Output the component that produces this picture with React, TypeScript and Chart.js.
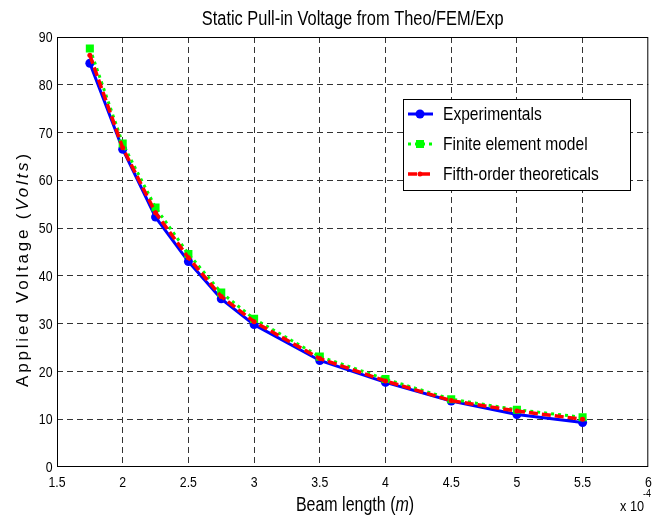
import React, { useEffect, useRef } from 'react';
import { Chart, registerables } from 'chart.js';

Chart.register(...registerables);

// Beam length in units of 1e-4 m
const beamLength = [1.75, 2, 2.25, 2.5, 2.75, 3, 3.5, 4, 4.5, 5, 5.5];
const experimentals = [84.5, 66.5, 52.3, 43.0, 35.2, 29.8, 22.3, 17.7, 13.8, 11.0, 9.3];
const finiteElement = [87.6, 67.7, 54.3, 44.6, 36.5, 31.0, 23.1, 18.4, 14.2, 12.0, 10.4];
const fifthOrder = [86.2, 66.8, 53.2, 43.8, 35.7, 30.4, 22.7, 18.0, 13.9, 11.7, 10.0];

const xTicks = [1.5, 2, 2.5, 3, 3.5, 4, 4.5, 5, 5.5, 6];
const yTicks = [0, 10, 20, 30, 40, 50, 60, 70, 80, 90];

const seriesLabels = ['Experimentals', 'Finite element model', 'Fifth-order theoreticals'];
const chartTitle = 'Static Pull-in Voltage from Theo/FEM/Exp';

const FAM = "'Liberation Sans', Arial, sans-serif";
const SX = 0.82; // horizontal condensing to mimic a narrow Helvetica

function segWidth(ctx: CanvasRenderingContext2D, segs: [string, string][]) {
  let total = 0;
  for (const [t, f] of segs) { ctx.font = f; total += ctx.measureText(t).width; }
  return total;
}

// draw (condensed) text segments; align: 0=left,0.5=center,1=right
function drawText(ctx: CanvasRenderingContext2D, segs: [string, string][], x: number, y: number, align = 0.5, sx = SX) {
  ctx.save();
  ctx.translate(x, y);
  ctx.scale(sx, 1);
  ctx.textAlign = 'left';
  const total = segWidth(ctx, segs);
  let cx = -total * align;
  for (const [t, f] of segs) { ctx.font = f; ctx.fillText(t, cx, 0); cx += ctx.measureText(t).width; }
  ctx.restore();
}

const overlay = {
  id: 'overlay',
  afterDraw(chart: any) {
    const { ctx, chartArea: a } = chart;
    const xs = chart.scales.x, ys = chart.scales.y;
    ctx.save();
    ctx.setLineDash([]);
    ctx.strokeStyle = '#000';
    ctx.lineWidth = 1;
    ctx.strokeRect(a.left + 0.5, a.top + 0.5, a.right - a.left - 1, a.bottom - a.top - 1);

    ctx.fillStyle = '#000';
    ctx.textBaseline = 'alphabetic';

    // tick labels
    const tf = `15px ${FAM}`;
    xTicks.forEach((v) => drawText(ctx, [[String(v), tf]], xs.getPixelForValue(v), 486.5, 0.5));
    ctx.textBaseline = 'middle';
    yTicks.forEach((v) => drawText(ctx, [[String(v), tf]], 52.5, ys.getPixelForValue(v) + 1, 1));
    ctx.textBaseline = 'alphabetic';

    // title
    drawText(ctx, [[chartTitle, `20px ${FAM}`]], (a.left + a.right) / 2, 25, 0.5);

    // x title
    drawText(ctx, [
      ['Beam length (', `19.5px ${FAM}`],
      ['m', `italic 19.5px ${FAM}`],
      [')', `19.5px ${FAM}`],
    ], 355, 511, 0.5);

    // exponent
    drawText(ctx, [['x 10', `15.5px ${FAM}`]], 620, 511, 0);
    drawText(ctx, [['-4', `11px ${FAM}`]], 643, 497, 0);

    // y title
    ctx.save();
    ctx.translate(28, 269);
    ctx.rotate(-Math.PI / 2);
    (ctx as any).letterSpacing = '2.8px';
    drawText(ctx, [
      ['Applied Voltage (', `17px ${FAM}`],
      ['Volts', `italic 17px ${FAM}`],
      [')', `17px ${FAM}`],
    ], 0, 0, 0.5, 1);
    ctx.restore();

    // legend
    const bx = 403, by = 99, bw = 227, bh = 91;
    ctx.fillStyle = '#fff';
    ctx.fillRect(bx, by, bw, bh);
    ctx.strokeStyle = '#000';
    ctx.lineWidth = 1;
    ctx.strokeRect(bx + 0.5, by + 0.5, bw, bh);
    const rows = [114, 144, 174];
    const colors = ['#0000ff', '#00ff00', '#ff0000'];
    const dashes = [[], [3, 4], [9, 4]];
    rows.forEach((ry, i) => {
      ctx.save();
      ctx.strokeStyle = colors[i];
      ctx.fillStyle = colors[i];
      ctx.lineWidth = i === 2 ? 3.5 : 3;
      ctx.setLineDash(dashes[i]);
      ctx.beginPath();
      ctx.moveTo(408, ry);
      ctx.lineTo(433, ry);
      ctx.stroke();
      ctx.setLineDash([]);
      if (i === 0) { ctx.beginPath(); ctx.arc(420, ry, 4.5, 0, Math.PI * 2); ctx.fill(); }
      if (i === 1) { ctx.fillRect(416, ry - 4, 8, 8); }
      if (i === 2) { ctx.beginPath(); ctx.arc(420, ry, 2.5, 0, Math.PI * 2); ctx.fill(); }
      ctx.restore();
      ctx.fillStyle = '#000';
      ctx.textBaseline = 'middle';
      drawText(ctx, [[seriesLabels[i], `19px ${FAM}`]], 443, ry + 1, 0);
    });
    ctx.restore();
  },
};

export default function App() {
  const ref = useRef<HTMLCanvasElement>(null);
  useEffect(() => {
    const pts = (ys: number[]) => beamLength.map((x, i) => ({ x, y: ys[i] }));
    const gridColor = (edgeA: number, edgeB: number) => (c: any) =>
      c.tick && (c.tick.value === edgeA || c.tick.value === edgeB) ? 'rgba(0,0,0,0)' : '#333';
    const chart = new Chart(ref.current as HTMLCanvasElement, {
      type: 'line',
      data: {
        datasets: [
          {
            label: seriesLabels[0], data: pts(experimentals), order: 2,
            borderColor: '#0000ff', backgroundColor: '#0000ff', borderWidth: 3,
            pointStyle: 'circle', pointRadius: 4.5, pointBorderWidth: 0,
            pointBackgroundColor: '#0000ff', tension: 0,
          },
          {
            label: seriesLabels[1], data: pts(finiteElement), order: 1,
            borderColor: '#00ff00', backgroundColor: '#00ff00', borderWidth: 3, borderDash: [3, 4],
            pointStyle: 'rect', pointRadius: 5.7, pointBorderWidth: 0,
            pointBackgroundColor: '#00ff00', tension: 0,
          },
          {
            label: seriesLabels[2], data: pts(fifthOrder), order: 0,
            borderColor: '#ff0000', backgroundColor: '#ff0000', borderWidth: 3.5, borderDash: [9, 4],
            pointStyle: 'circle', pointRadius: 2.5, pointBorderWidth: 0,
            pointBackgroundColor: '#ff0000', tension: 0,
          },
        ],
      },
      options: {
        animation: false,
        responsive: false,
        maintainAspectRatio: false,
        layout: { padding: { top: 37, left: 0, right: 2, bottom: 0 } },
        plugins: { legend: { display: false }, title: { display: false }, tooltip: { enabled: false } },
        scales: {
          x: {
            type: 'linear', min: 1.5, max: 6,
            afterBuildTicks: (s: any) => { s.ticks = xTicks.map((v) => ({ value: v })); },
            afterFit: (s: any) => { s.height = 50; s.paddingLeft = 0; s.paddingRight = 0; },
            ticks: { display: false },
            grid: { color: gridColor(1.5, 6), lineWidth: 1, drawTicks: false },
            border: { display: false, dash: [6, 4] },
          },
          y: {
            type: 'linear', min: 0, max: 90,
            afterBuildTicks: (s: any) => { s.ticks = yTicks.map((v) => ({ value: v })); },
            afterFit: (s: any) => { s.width = 57; s.paddingTop = 0; s.paddingBottom = 0; },
            ticks: { display: false },
            grid: { color: gridColor(0, 90), lineWidth: 1, drawTicks: false },
            border: { display: false, dash: [6, 4] },
          },
        },
      },
      plugins: [overlay],
    } as any);
    return () => chart.destroy();
  }, []);
  return (
    <div style={{ position: 'fixed', left: 0, top: 0, width: 654, height: 517, background: '#fff' }}>
      <canvas ref={ref} width={654} height={517} style={{ width: 654, height: 517 }} />
    </div>
  );
}
